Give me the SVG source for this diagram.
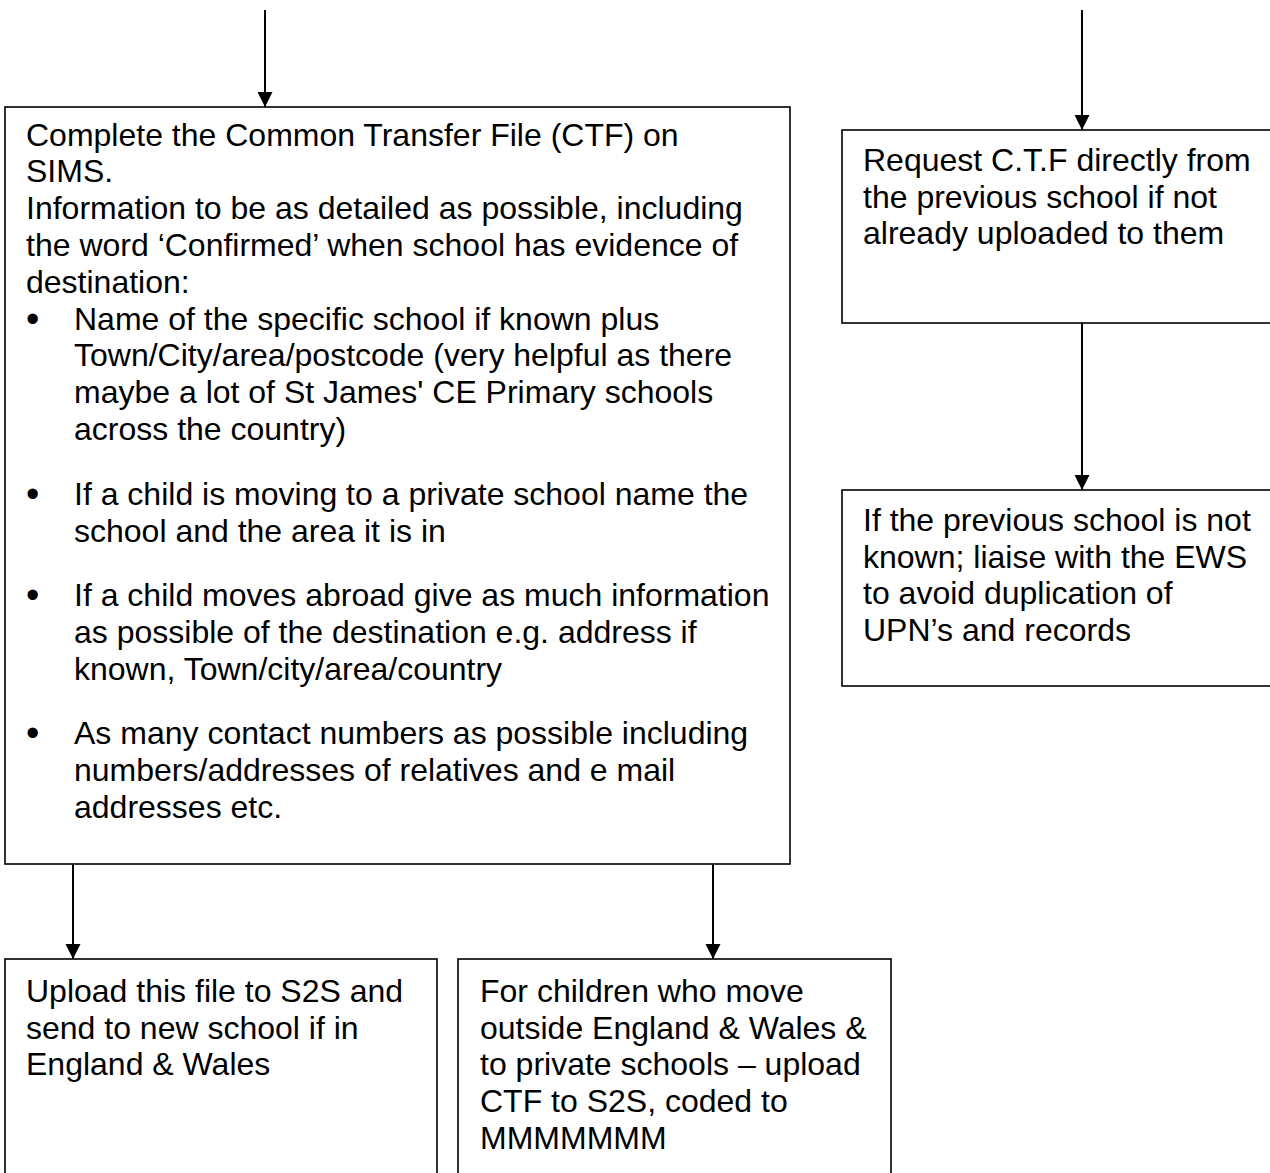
<svg xmlns="http://www.w3.org/2000/svg" width="1270" height="1173" viewBox="0 0 1270 1173">
<style>
.box{fill:#fff;stroke:#000;stroke-width:1.6}
.t{font-family:"Liberation Sans",Arial,sans-serif;font-size:32px;fill:#000}
.b{font-family:"Liberation Sans",Arial,sans-serif;font-size:38px;fill:#000}
.c{stroke:#000;stroke-width:2;fill:none}
</style>
<defs>
<marker id="ah" markerUnits="userSpaceOnUse" markerWidth="16" markerHeight="16" viewBox="0 0 16 16" refX="15" refY="8" orient="auto">
<path d="M0,0.5 L15,8 L0,15.5 Z" fill="#000"/>
</marker>
</defs>
<rect width="1270" height="1173" fill="#fff"/>
<g id="connectors">
<line class="c" x1="265" y1="10" x2="265" y2="107" marker-end="url(#ah)"/>
<line class="c" x1="1082" y1="10" x2="1082" y2="130" marker-end="url(#ah)"/>
<line class="c" x1="1082" y1="323" x2="1082" y2="490" marker-end="url(#ah)"/>
<line class="c" x1="73" y1="864" x2="73" y2="959" marker-end="url(#ah)"/>
<line class="c" x1="713" y1="864" x2="713" y2="959" marker-end="url(#ah)"/>
</g>
<g id="main">
<rect class="box" x="5" y="107" width="785" height="757"/>
<text class="t" x="26" y="145.5">Complete the Common Transfer File (CTF) on</text>
<text class="t" x="26" y="182.3">SIMS.</text>
<text class="t" x="26" y="219.1">Information to be as detailed as possible, including</text>
<text class="t" x="26" y="255.9">the word ‘Confirmed’ when school has evidence of</text>
<text class="t" x="26" y="292.7">destination:</text>
<text class="b" x="26" y="331.5">•</text>
<text class="t" x="74" y="329.5">Name of the specific school if known plus</text>
<text class="t" x="74" y="366.3">Town/City/area/postcode (very helpful as there</text>
<text class="t" x="74" y="403.1">maybe a lot of St James' CE Primary schools</text>
<text class="t" x="74" y="439.9">across the country)</text>
<text class="b" x="26" y="507">•</text>
<text class="t" x="74" y="505">If a child is moving to a private school name the</text>
<text class="t" x="74" y="541.8">school and the area it is in</text>
<text class="b" x="26" y="608.3">•</text>
<text class="t" x="74" y="606.3">If a child moves abroad give as much information</text>
<text class="t" x="74" y="643.1">as possible of the destination e.g. address if</text>
<text class="t" x="74" y="679.9">known, Town/city/area/country</text>
<text class="b" x="26" y="746.4">•</text>
<text class="t" x="74" y="744.4">As many contact numbers as possible including</text>
<text class="t" x="74" y="781.2">numbers/addresses of relatives and e mail</text>
<text class="t" x="74" y="818">addresses etc.</text>
</g>
<g id="request">
<rect class="box" x="842" y="130" width="432" height="193"/>
<text class="t" x="863" y="170.7">Request C.T.F directly from</text>
<text class="t" x="863" y="207.5">the previous school if not</text>
<text class="t" x="863" y="244.3">already uploaded to them</text>
</g>
<g id="unknown">
<rect class="box" x="842" y="490" width="432" height="196"/>
<text class="t" x="863" y="530.7">If the previous school is not</text>
<text class="t" x="863" y="567.5">known; liaise with the EWS</text>
<text class="t" x="863" y="604.3">to avoid duplication of</text>
<text class="t" x="863" y="641.1">UPN’s and records</text>
</g>
<g id="upload">
<rect class="box" x="5" y="959" width="432" height="220"/>
<text class="t" x="26" y="1001.7">Upload this file to S2S and</text>
<text class="t" x="26" y="1038.5">send to new school if in</text>
<text class="t" x="26" y="1075.3">England &amp; Wales</text>
</g>
<g id="outside">
<rect class="box" x="458" y="959" width="433" height="220"/>
<text class="t" x="480" y="1001.7">For children who move</text>
<text class="t" x="480" y="1038.5">outside England &amp; Wales &amp;</text>
<text class="t" x="480" y="1075.3">to private schools – upload</text>
<text class="t" x="480" y="1112.1">CTF to S2S, coded to</text>
<text class="t" x="480" y="1148.9">MMMMMMM</text>
</g>
</svg>
